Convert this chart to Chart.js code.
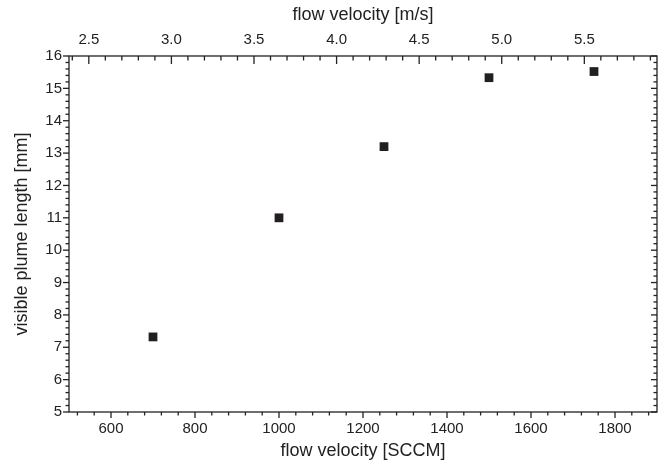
<!DOCTYPE html>
<html>
<head>
<meta charset="utf-8">
<script src="https://cdn.jsdelivr.net/npm/chart.js@4/dist/chart.umd.min.js"></script>
<style>
  html, body { margin: 0; background: #fff; }
  #wrap { width: 664px; height: 464px; }
</style>
</head>
<body>
<div id="wrap"><canvas id="plumeChart"></canvas></div>
<script>
// 測定データ
const flowSccm = [700, 1000, 1250, 1500, 1750];
const plumeLength = [7.32, 11.0, 13.2, 15.33, 15.52];

// 目盛り
const sccmTicks = [600, 800, 1000, 1200, 1400, 1600, 1800];
const velocityTicks = [2.5, 3.0, 3.5, 4.0, 4.5, 5.0, 5.5];
const lengthTicks = [5, 6, 7, 8, 9, 10, 11, 12, 13, 14, 15, 16];

const FONT = '"Liberation Sans", Arial, sans-serif';
const INK = '#222';

// 枠と内向き/外向きの目盛りを描く
const frameTicks = {
    id: 'frameTicks',
    afterDraw(chart) {
        const { ctx, chartArea: a, scales } = chart;
        const x = scales.x, x2 = scales.x2, y = scales.y;
        const major = 6, minor = 3.5;
        ctx.save();
        ctx.strokeStyle = INK;
        ctx.lineWidth = 1.3;
        ctx.strokeRect(a.left, a.top, a.right - a.left, a.bottom - a.top);

        const line = (x0, y0, x1, y1) => {
            ctx.beginPath();
            ctx.moveTo(x0, y0);
            ctx.lineTo(x1, y1);
            ctx.stroke();
        };
        const steps = (min, max, step) => {
            const out = [];
            for (let v = Math.ceil(min / step - 1e-6) * step; v <= max + 1e-6; v += step) out.push(+v.toFixed(4));
            return out;
        };
        const isMajor = (v, list) => list.some(t => Math.abs(t - v) < 1e-6);

        // 下軸 (外向き)
        steps(x.min, x.max, 40).forEach(v => {
            const px = x.getPixelForValue(v);
            line(px, a.bottom, px, a.bottom + (isMajor(v, sccmTicks) ? major : minor));
        });
        // 上軸 (内向き)
        steps(x2.min, x2.max, 0.1).forEach(v => {
            const px = x2.getPixelForValue(v);
            line(px, a.top, px, a.top + (isMajor(v, velocityTicks) ? major + 2 : minor + 1));
        });
        // 左右の軸
        steps(y.min, y.max, 0.2).forEach(v => {
            const py = y.getPixelForValue(v);
            const len = isMajor(v, lengthTicks) ? major : minor;
            line(a.left, py, a.left - len, py);
            line(a.right, py, a.right - len, py);
        });
        ctx.restore();
    }
};

const ctx = document.getElementById('plumeChart').getContext('2d');
new Chart(ctx, {
    type: 'scatter',
    data: {
        datasets: [{
            data: flowSccm.map((v, i) => ({ x: v, y: plumeLength[i] })),
            pointStyle: 'rect',
            pointRadius: 6.2,
            pointHoverRadius: 6.2,
            borderWidth: 0,
            backgroundColor: '#231f20'
        }]
    },
    options: {
        responsive: true,
        maintainAspectRatio: false,
        animation: false,
        layout: { padding: { right: 7 } },
        plugins: {
            legend: { display: false },
            tooltip: { enabled: false }
        },
        scales: {
            x: {
                type: 'linear',
                position: 'bottom',
                min: 500,
                max: 1900,
                grid: { display: false, drawTicks: false },
                border: { display: false },
                afterBuildTicks: s => { s.ticks = sccmTicks.map(v => ({ value: v })); },
                afterFit: s => { s.height = 52; },
                ticks: {
                    color: INK,
                    padding: 8,
                    font: { family: FONT, size: 15 },
                    callback: v => String(v)
                },
                title: {
                    display: true,
                    text: 'flow velocity [SCCM]',
                    color: INK,
                    padding: { bottom: 2 },
                    font: { family: FONT, size: 18 }
                }
            },
            x2: {
                type: 'linear',
                position: 'top',
                min: 2.38,
                max: 5.94,
                grid: { display: false, drawTicks: false },
                border: { display: false },
                afterBuildTicks: s => { s.ticks = velocityTicks.map(v => ({ value: v })); },
                afterFit: s => { s.height = 56; },
                ticks: {
                    color: INK,
                    padding: 7,
                    font: { family: FONT, size: 15 },
                    callback: v => v.toFixed(1)
                },
                title: {
                    display: true,
                    text: 'flow velocity [m/s]',
                    color: INK,
                    padding: { top: 4 },
                    font: { family: FONT, size: 18 }
                }
            },
            y: {
                type: 'linear',
                min: 5,
                max: 16,
                grid: { display: false, drawTicks: false },
                border: { display: false },
                afterBuildTicks: s => { s.ticks = lengthTicks.map(v => ({ value: v })); },
                afterFit: s => { s.width = 69; },
                ticks: {
                    color: INK,
                    padding: 7,
                    font: { family: FONT, size: 15 },
                    callback: v => String(v)
                },
                title: {
                    display: true,
                    text: 'visible plume length [mm]',
                    color: INK,
                    padding: { top: 11 },
                    font: { family: FONT, size: 18 }
                }
            }
        }
    },
    plugins: [frameTicks]
});
</script>
</body>
</html>
